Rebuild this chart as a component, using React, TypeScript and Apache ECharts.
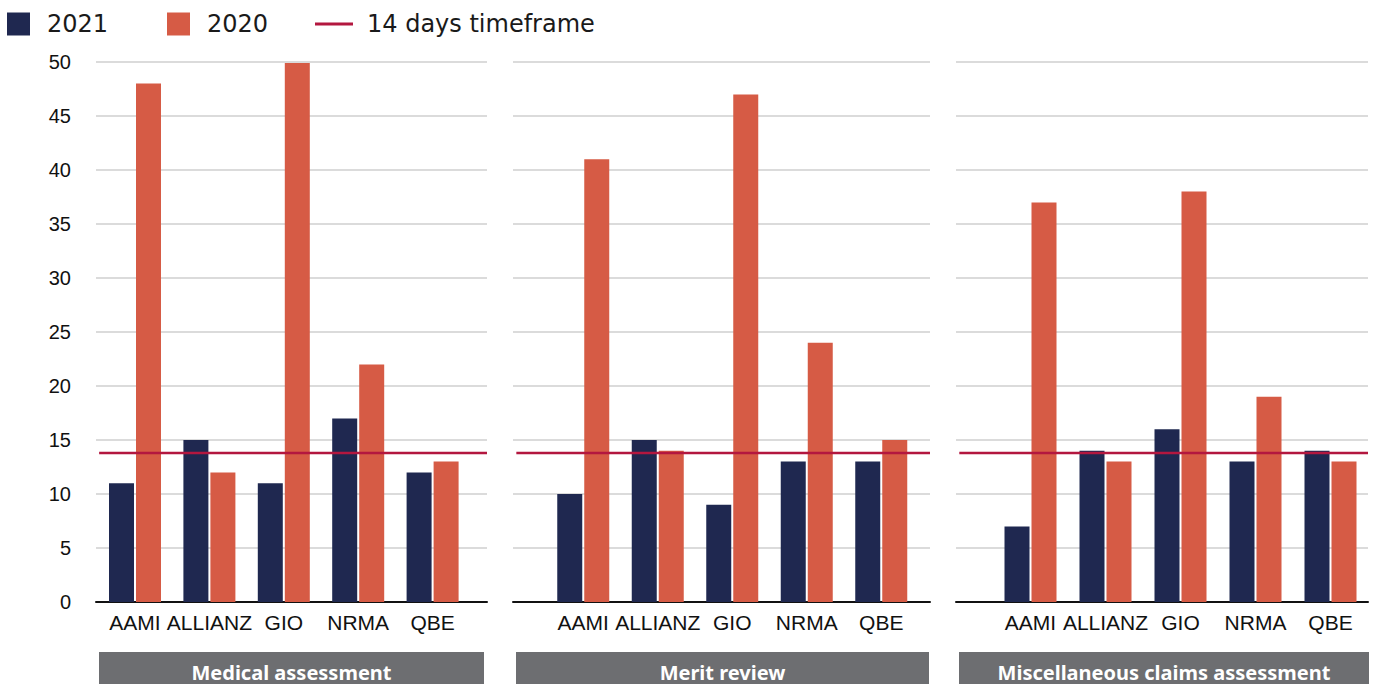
import React, { useEffect, useRef } from 'react';
import * as echarts from 'echarts';

// ---- Data ----
const insurers = ['AAMI', 'ALLIANZ', 'GIO', 'NRMA', 'QBE'];
const panelTitles = ['Medical assessment', 'Merit review', 'Miscellaneous claims assessment'];
const medical2021 = [11, 15, 11, 17, 12];
const medical2020 = [48, 12, 49.9, 22, 13];
const merit2021 = [10, 15, 9, 13, 13];
const merit2020 = [41, 14, 47, 24, 15];
const misc2021 = [7, 14, 16, 13, 14];
const misc2020 = [37, 13, 38, 19, 13];
const timeframeDays = 13.8;
const yMin = 0;
const yMax = 50;
const yInterval = 5;

const values2021 = [medical2021, merit2021, misc2021];
const values2020 = [medical2020, merit2020, misc2020];

// ---- Layout / style ----
const NAVY = '#1f2850';
const ORANGE = '#d65b45';
const RED = '#b3173f';
const GREY_BOX = '#6d6e71';
const TOP = 62;
const PLOT_H = 540;
// background grids (gridlines, baseline, timeframe line)
const bgGrids = [
  { left: 96, width: 391 },
  { left: 513, width: 417 },
  { left: 956, width: 412 },
];
// bar grids (category bands)
const barGrids = [
  { left: 97.8, width: 372 },
  { left: 546, width: 372.5 },
  { left: 993, width: 375 },
];
const boxes = [
  { x: 99, w: 385 },
  { x: 516, w: 413 },
  { x: 959, w: 410 },
];

export default function App() {
  const ref = useRef<HTMLDivElement>(null);
  useEffect(() => {
    if (!ref.current) return;
    const chart = echarts.init(ref.current, undefined, { renderer: 'svg' });

    const grid: any[] = [];
    const xAxis: any[] = [];
    const yAxis: any[] = [];
    const series: any[] = [];
    const graphic: any[] = [];

    bgGrids.forEach((g, i) => {
      grid.push({ left: g.left, top: TOP, width: g.width, height: PLOT_H, containLabel: false });
      xAxis.push({
        type: 'value', gridIndex: i, min: 0, max: 1,
        axisLine: { show: true, onZero: false, lineStyle: { color: '#111', width: 2 } },
        axisTick: { show: false }, axisLabel: { show: false }, splitLine: { show: false },
      });
      yAxis.push({
        type: 'value', gridIndex: i, min: yMin, max: yMax, interval: yInterval,
        axisLine: { show: false }, axisTick: { show: false },
        axisLabel: {
          show: i === 0, margin: 25, color: '#111', fontSize: 20,
          fontFamily: 'Liberation Sans, Arial, sans-serif',
        },
        splitLine: { show: true, lineStyle: { color: '#cfcfcf', width: 1.5 } },
      });
    });
    barGrids.forEach((g, i) => {
      grid.push({ left: g.left, top: TOP, width: g.width, height: PLOT_H, containLabel: false });
      xAxis.push({
        type: 'category', gridIndex: 3 + i, data: insurers,
        axisLine: { show: false }, axisTick: { show: false }, splitLine: { show: false },
        axisLabel: {
          margin: 10, color: '#111', fontSize: 21, interval: 0,
          fontFamily: 'Liberation Sans, Arial, sans-serif',
        },
      });
      yAxis.push({
        type: 'value', gridIndex: 3 + i, min: yMin, max: yMax, interval: yInterval, show: false,
        splitLine: { show: false },
      });
    });

    for (let i = 0; i < 3; i++) {
      series.push({
        name: '2021', type: 'bar', xAxisIndex: 3 + i, yAxisIndex: 3 + i,
        data: values2021[i], barWidth: 25, barGap: '8%',
        itemStyle: { color: NAVY }, z: 2,
      });
      series.push({
        name: '2020', type: 'bar', xAxisIndex: 3 + i, yAxisIndex: 3 + i,
        data: values2020[i], barWidth: 25, barGap: '8%',
        itemStyle: { color: ORANGE }, z: 2,
      });
      series.push({
        name: '14 days timeframe', type: 'line', xAxisIndex: i, yAxisIndex: i,
        data: [[0.008, timeframeDays], [1, timeframeDays]],
        symbol: 'none', lineStyle: { color: RED, width: 2.5 }, itemStyle: { color: RED },
        z: 4, silent: true,
      });
      const b = boxes[i];
      graphic.push({
        type: 'rect', shape: { x: b.x, y: 652, width: b.w, height: 40 },
        style: { fill: GREY_BOX }, silent: true,
      });
      graphic.push({
        type: 'text', x: b.x + b.w / 2, y: 672,
        style: {
          text: panelTitles[i], fill: '#ffffff', fontSize: 20, fontWeight: 'bold',
          fontFamily: 'Noto Sans, sans-serif', align: 'center', verticalAlign: 'middle',
        },
        silent: true,
      });
    }

    const legendText = {
      color: '#1a1a1a', fontSize: 24, fontFamily: 'DejaVu Sans, sans-serif',
    };
    const legend = [
      {
        left: 2, top: 7, itemWidth: 23, itemHeight: 23, orient: 'horizontal',
        data: [{ name: '2021', icon: 'rect' }],
        textStyle: { ...legendText, padding: [0, 0, 0, 12] },
      },
      {
        left: 162, top: 7, itemWidth: 23, itemHeight: 23,
        data: [{ name: '2020', icon: 'rect' }],
        textStyle: { ...legendText, padding: [0, 0, 0, 12] },
      },
      {
        left: 310, top: 7, itemWidth: 38, itemHeight: 23,
        data: [{ name: '14 days timeframe', icon: 'path://M0,10 L38,10 L38,13 L0,13 Z' }],
        textStyle: { ...legendText, padding: [0, 0, 0, 9] },
      },
    ];

    chart.setOption({
      animation: false,
      backgroundColor: '#ffffff',
      legend,
      grid, xAxis, yAxis, series, graphic,
    });
    return () => chart.dispose();
  }, []);

  return (
    <div
      ref={ref}
      style={{ position: 'fixed', left: 0, top: 0, width: 1375, height: 684 }}
    />
  );
}
